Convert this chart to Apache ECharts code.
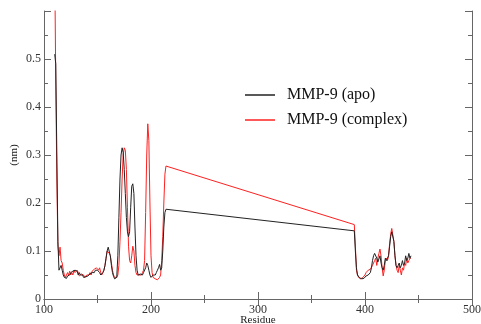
<!DOCTYPE html>
<html><head><meta charset="utf-8">
<script src="https://cdn.jsdelivr.net/npm/echarts@6/dist/echarts.min.js"></script>
<style>html,body{margin:0;padding:0;background:#fff}#c{width:481px;height:324px}</style>
</head><body><div id="c"></div>
<script>
const residues = [
110,111,112,113,114,115,116,117,118,119,
120,121,122,123,124,125,126,127,128,129,
130,131,132,133,134,135,136,137,138,139,
140,141,142,143,144,145,146,147,148,149,
150,151,152,153,154,155,156,157,158,159,
160,161,162,163,164,165,166,167,168,169,
170,171,172,173,174,175,176,177,178,179,
180,181,182,183,184,185,186,187,188,189,
190,191,192,193,194,195,196,197,198,199,
200,201,202,203,204,205,206,207,208,209,
210,211,212,213,214,
390,391,392,393,394,395,396,397,398,399,
400,401,402,403,404,405,406,407,408,409,
410,411,412,413,414,415,416,417,418,419,
420,421,422,423,424,425,426,427,428,429,
430,431,432,433,434,435,436,437,438,439,
440,441,442,443];
const apo = [
0.51,0.49,0.30,0.12,0.06,0.056,0.07,0.06,0.05,0.045,
0.045,0.043,0.048,0.052,0.05,0.055,0.052,0.058,0.055,0.06,
0.056,0.058,0.05,0.055,0.05,0.047,0.05,0.045,0.048,0.046,
0.05,0.048,0.05,0.052,0.05,0.055,0.058,0.055,0.06,0.058,
0.06,0.056,0.055,0.05,0.052,0.055,0.06,0.07,0.085,0.1,
0.108,0.105,0.09,0.07,0.055,0.047,0.042,0.04,0.045,0.09,
0.17,0.25,0.30,0.315,0.305,0.27,0.22,0.17,0.14,0.13,
0.14,0.19,0.235,0.24,0.22,0.15,0.09,0.06,0.05,0.05,
0.052,0.055,0.05,0.055,0.055,0.065,0.075,0.07,0.06,0.05,
0.045,0.045,0.05,0.05,0.05,0.055,0.06,0.065,0.072,0.06,
0.065,0.10,0.15,0.18,0.187,
0.142,0.10,0.065,0.05,0.046,0.044,0.043,0.042,0.042,0.043,
0.045,0.048,0.05,0.05,0.05,0.055,0.065,0.08,0.09,0.095,
0.097,0.085,0.077,0.08,0.09,0.075,0.065,0.06,0.07,0.085,
0.08,0.085,0.09,0.11,0.13,0.14,0.14,0.12,0.09,0.07,
0.065,0.07,0.075,0.065,0.07,0.08,0.07,0.075,0.09,0.08,
0.085,0.095,0.085,0.09];
const complexVals = [
0.70,0.45,0.25,0.11,0.09,0.108,0.08,0.075,0.06,0.05,
0.045,0.05,0.055,0.05,0.058,0.05,0.055,0.05,0.06,0.055,
0.052,0.06,0.055,0.048,0.05,0.052,0.048,0.05,0.045,0.048,
0.05,0.047,0.05,0.055,0.05,0.058,0.055,0.062,0.06,0.065,
0.068,0.06,0.065,0.055,0.05,0.055,0.06,0.07,0.085,0.1,
0.102,0.095,0.09,0.075,0.06,0.05,0.045,0.042,0.045,0.05,
0.07,0.12,0.18,0.25,0.30,0.315,0.31,0.27,0.19,0.11,
0.08,0.075,0.09,0.11,0.10,0.07,0.055,0.05,0.05,0.05,
0.048,0.05,0.055,0.06,0.08,0.18,0.30,0.365,0.33,0.20,
0.09,0.055,0.045,0.045,0.042,0.04,0.04,0.042,0.045,0.05,
0.08,0.13,0.20,0.26,0.277,
0.155,0.11,0.06,0.05,0.045,0.043,0.042,0.043,0.045,0.047,
0.05,0.055,0.058,0.06,0.06,0.062,0.065,0.07,0.075,0.08,
0.085,0.07,0.085,0.095,0.104,0.09,0.065,0.048,0.06,0.08,
0.085,0.08,0.09,0.115,0.135,0.147,0.145,0.12,0.09,0.07,
0.06,0.055,0.07,0.06,0.05,0.065,0.06,0.075,0.07,0.085,
0.075,0.08,0.085,0.085];
const seriesNames = ['MMP-9 (apo)', 'MMP-9 (complex)'];
const xTitle = 'Residue';
const yTitle = '(nm)';

const font = 'Liberation Serif';
const axisCol = '#666';
const chart = echarts.init(document.getElementById('c'), null, {renderer:'canvas'});
const pairs = vals => residues.map((r,i)=>[r, vals[i]]);
const baseX = {type:'value', min:100, max:500, interval:100,
  axisLine:{lineStyle:{color:axisCol,width:1}},
  axisTick:{inside:true,length:7,lineStyle:{color:axisCol}},
  minorTick:{show:true,splitNumber:2,length:4,lineStyle:{color:axisCol}},
  splitLine:{show:false}};
const baseY = {type:'value', min:0, max:0.6, interval:0.1,
  axisLine:{show:true,lineStyle:{color:axisCol,width:1}},
  axisTick:{inside:true,length:7,lineStyle:{color:axisCol}},
  minorTick:{show:true,splitNumber:2,length:4,lineStyle:{color:axisCol}},
  splitLine:{show:false}};
chart.setOption({
  animation:false,
  backgroundColor:'#fff',
  grid:{left:44,right:9,top:11,bottom:25,containLabel:false,outerBoundsMode:'none'},
  legend:{orient:'vertical',left:245,top:87,padding:0,itemWidth:30,itemHeight:1.5,itemGap:9,
    icon:'rect',
    data:[{name:seriesNames[0],itemStyle:{color:'#222'}},{name:seriesNames[1],itemStyle:{color:'#ff2020'}}],
    textStyle:{fontFamily:font,fontSize:16,color:'#111',padding:[0,0,0,7],lineHeight:16}},
  xAxis:[
    Object.assign({},baseX,{position:'bottom',name:xTitle,nameLocation:'middle',nameGap:16,
      nameMoveOverlap:false,
      nameTextStyle:{fontFamily:font,fontSize:11,color:'#222'},
      axisLabel:{fontFamily:font,fontSize:12,color:'#333',margin:5}}),
    Object.assign({},baseX,{position:'top',axisLabel:{show:false}})
  ],
  yAxis:[
    Object.assign({},baseY,{position:'left',name:yTitle,nameLocation:'middle',nameGap:24,
      nameMoveOverlap:false,
      nameTextStyle:{fontFamily:font,fontSize:11,color:'#222'},
      axisLabel:{fontFamily:font,fontSize:12,color:'#333',margin:3,
        formatter:v=>v>=0.6?'':(v===0?'0':v.toFixed(1))}}),
    Object.assign({},baseY,{position:'right',axisLabel:{show:false}})
  ],
  series:[
    {name:seriesNames[0],type:'line',data:pairs(apo),symbol:'none',clip:true,
      lineStyle:{color:'#222',width:1},itemStyle:{color:'#222'},z:3},
    {name:seriesNames[1],type:'line',data:pairs(complexVals),symbol:'none',clip:true,
      lineStyle:{color:'#ff2020',width:1},itemStyle:{color:'#ff2020'},z:2}
  ]
});
</script></body></html>
